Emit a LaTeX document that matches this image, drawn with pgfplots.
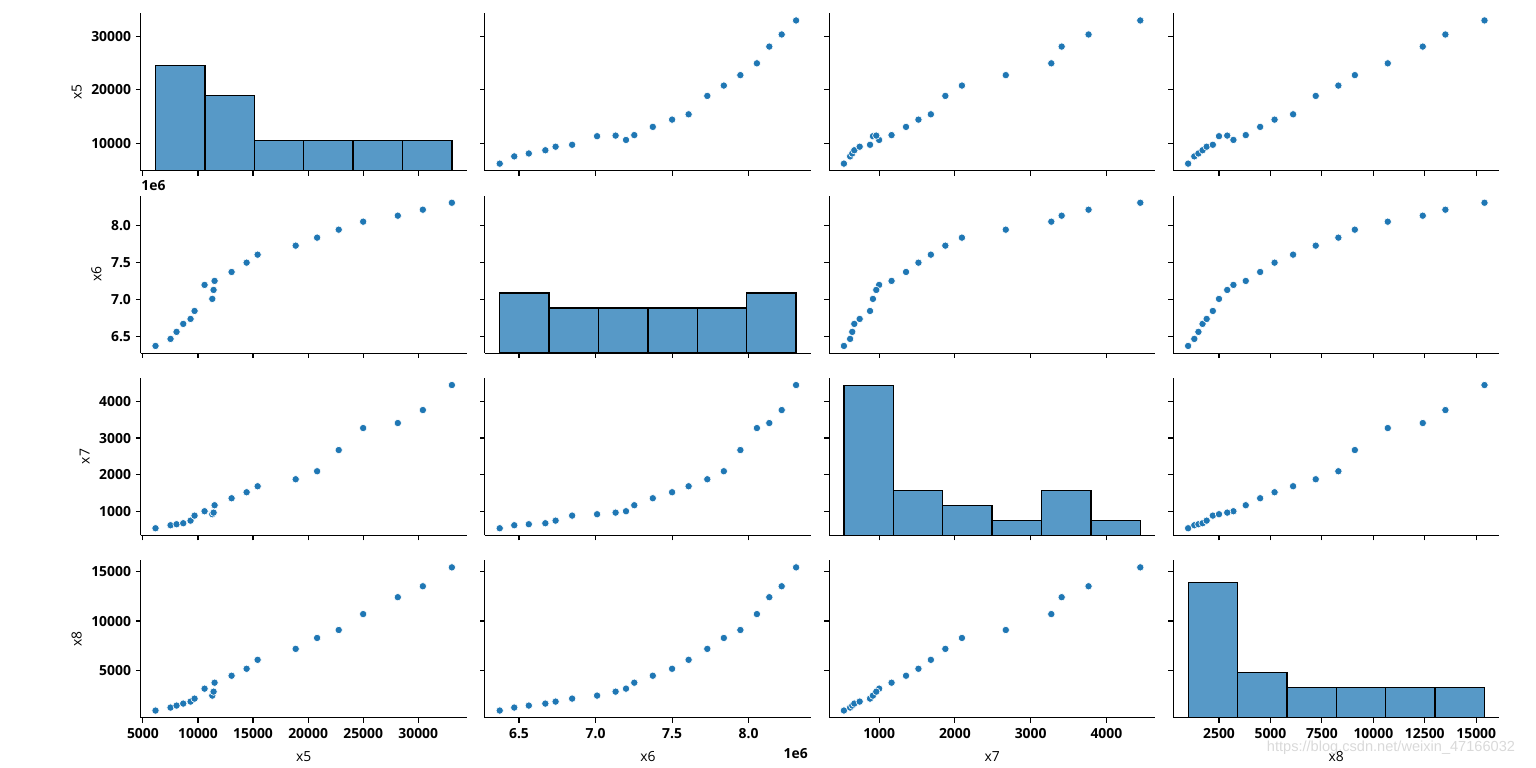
\documentclass[border=0pt]{standalone}
\usepackage{pgfplots}
\usepackage{pgfplotstable}
\pgfplotsset{compat=1.18}
\usepackage{fontspec}
\setmainfont{Open Sans}
\newfontfamily\wmfont{Liberation Sans}
\definecolor{c0}{RGB}{31,119,180}
\definecolor{histc}{RGB}{87,153,199}

\pgfplotstableread{
x5 x6 x7 x8
6145 6374000 535 1000
7510 6469000 617 1300
8055 6564000 645 1500
8663 6672000 672 1700
9327 6739000 743 1900
9690 6847000 880 2200
10600 7199000 1000 3200
11300 7010000 918 2500
11418 7131000 962 2900
11509 7253000 1164 3800
13054 7374000 1355 4500
14418 7500000 1519 5200
15418 7608000 1683 6100
18872 7730000 1874 7200
20818 7838000 2093 8300
22781 7946000 2672 9100
25000 8054000 3273 10700
28145 8135000 3410 12400
30418 8216000 3765 13500
33054 8310000 4448 15400
}\data

\pgfplotsset{
 pp/.style={anchor=south west, scale only axis, width=234.72pt, height=113.4pt,
   axis x line*=bottom, axis y line*=left,
   axis line style={-, line width=0.8pt, black},
   tick align=outside, major tick length=3.5pt,
   every tick/.style={black, line width=0.8pt},
   xticklabel={\relax}, yticklabel={\relax}, scaled ticks=false,
   tick label style={font=\bfseries}, label style={font=\normalfont},
   xticklabel style={yshift=-1pt},
   xlabel style={yshift=-2pt}},
 hh/.style={anchor=south west, scale only axis, width=234.72pt, height=113.4pt,
   ymin=0, ymax=10.5, hide axis},
 cA/.style={xmin=4799.55,xmax=34399.45,xtick={5000,10000,15000,20000,25000,30000}},
 cB/.style={xmin=6277200,xmax=8406800,xtick={6500000,7000000,7500000,8000000}},
 cC/.style={xmin=339.35,xmax=4643.65,xtick={1000,2000,3000,4000}},
 cD/.style={xmin=280,xmax=16120,xtick={2500,5000,7500,10000,12500,15000}},
 rA/.style={ymin=4799.55,ymax=34399.45,ytick={10000,20000,30000}},
 rB/.style={ymin=6277200,ymax=8406800,ytick={6500000,7000000,7500000,8000000}},
 rC/.style={ymin=339.35,ymax=4643.65,ytick={1000,2000,3000,4000}},
 rD/.style={ymin=280,ymax=16120,ytick={5000,10000,15000}},
 lxA/.style={xticklabels={5000,10000,15000,20000,25000,30000}, xlabel={x5}},
 lxB/.style={xticklabels={6.5,7.0,7.5,8.0}, xlabel={x6}},
 lxC/.style={xticklabels={1000,2000,3000,4000}, xlabel={x7}},
 lxD/.style={xticklabels={2500,5000,7500,10000,12500,15000}, xlabel={x8}},
 lyA/.style={yticklabels={10000,20000,30000}, ylabel={x5}},
 lyB/.style={yticklabels={6.5,7.0,7.5,8.0}, ylabel={x6}},
 lyC/.style={yticklabels={1000,2000,3000,4000}, ylabel={x7}},
 lyD/.style={yticklabels={5000,10000,15000}, ylabel={x8}},
 dots/.style={only marks, mark=*, mark size=2.65pt,
   mark options={fill=c0, draw=white, line width=0.45pt}},
 bars/.style={ybar interval, fill=histc, draw=black, line width=0.9pt},
}

\begin{document}
\begin{tikzpicture}
\path[use as bounding box] (0,0) rectangle (1105.92pt,552.24pt);

% ---------- row 1 (x5) ----------
\begin{axis}[pp, at={(101.30pt,429.26pt)}, cA, rA, lyA]
\end{axis}
\begin{axis}[hh, at={(101.30pt,429.26pt)}, cA]
\addplot[bars] coordinates {(6145,7) (10629.83,5) (15114.67,2) (19599.5,2) (24084.33,2) (28569.17,2) (33054,2)};
\end{axis}
\begin{axis}[pp, at={(349.13pt,429.26pt)}, cB, rA]
\addplot[dots] table[x=x6,y=x5] {\data};
\end{axis}
\begin{axis}[pp, at={(596.95pt,429.26pt)}, cC, rA]
\addplot[dots] table[x=x7,y=x5] {\data};
\end{axis}
\begin{axis}[pp, at={(844.78pt,429.26pt)}, cD, rA]
\addplot[dots] table[x=x8,y=x5] {\data};
\end{axis}

% ---------- row 2 (x6) ----------
\begin{axis}[pp, at={(101.30pt,298.01pt)}, cA, rB, lyB]
\addplot[dots] table[x=x5,y=x6] {\data};
\end{axis}
\begin{axis}[pp, at={(349.13pt,298.01pt)}, cB, rB]
\end{axis}
\begin{axis}[hh, at={(349.13pt,298.01pt)}, cB]
\addplot[bars] coordinates {(6374000,4) (6696667,3) (7019333,3) (7342000,3) (7664667,3) (7987333,4) (8310000,4)};
\end{axis}
\begin{axis}[pp, at={(596.95pt,298.01pt)}, cC, rB]
\addplot[dots] table[x=x7,y=x6] {\data};
\end{axis}
\begin{axis}[pp, at={(844.78pt,298.01pt)}, cD, rB]
\addplot[dots] table[x=x8,y=x6] {\data};
\end{axis}

% ---------- row 3 (x7) ----------
\begin{axis}[pp, at={(101.30pt,166.75pt)}, cA, rC, lyC]
\addplot[dots] table[x=x5,y=x7] {\data};
\end{axis}
\begin{axis}[pp, at={(349.13pt,166.75pt)}, cB, rC]
\addplot[dots] table[x=x6,y=x7] {\data};
\end{axis}
\begin{axis}[pp, at={(596.95pt,166.75pt)}, cC, rC]
\end{axis}
\begin{axis}[hh, at={(596.95pt,166.75pt)}, cC]
\addplot[bars] coordinates {(535,10) (1187.17,3) (1839.33,2) (2491.5,1) (3143.67,3) (3795.83,1) (4448,1)};
\end{axis}
\begin{axis}[pp, at={(844.78pt,166.75pt)}, cD, rC]
\addplot[dots] table[x=x8,y=x7] {\data};
\end{axis}

% ---------- row 4 (x8) ----------
\begin{axis}[pp, at={(101.30pt,35.50pt)}, cA, rD, lyD, lxA]
\addplot[dots] table[x=x5,y=x8] {\data};
\end{axis}
\begin{axis}[pp, at={(349.13pt,35.50pt)}, cB, rD, lxB]
\addplot[dots] table[x=x6,y=x8] {\data};
\end{axis}
\begin{axis}[pp, at={(596.95pt,35.50pt)}, cC, rD, lxC]
\addplot[dots] table[x=x7,y=x8] {\data};
\end{axis}
\begin{axis}[pp, at={(844.78pt,35.50pt)}, cD, rD, lxD]
\end{axis}
\begin{axis}[hh, at={(844.78pt,35.50pt)}, cD]
\addplot[bars] coordinates {(1000,9) (3400,3) (5800,2) (8200,2) (10600,2) (13000,2) (15400,2)};
\end{axis}

% offset texts
\node[anchor=west, inner sep=0pt, font=\bfseries] at (101.6pt,418.3pt) {1e6};
\node[anchor=east, inner sep=0pt, font=\bfseries] at (581.8pt,9.4pt) {1e6};
% watermark
\node[inner sep=0pt, text=black!15, font=\wmfont\fontsize{10.5}{12}\selectfont] at (1001.5pt,13.7pt) {https://blog.csdn.net/weixin\_47166032};
\end{tikzpicture}
\end{document}
